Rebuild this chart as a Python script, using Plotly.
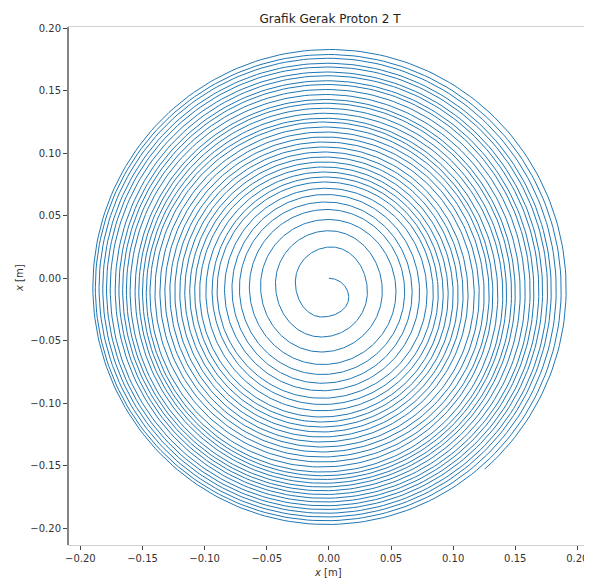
import numpy as np
import plotly.graph_objects as go

# Extremes of each turn of the spiral (metres)
right_x = [0.016, 0.031, 0.043, 0.054, 0.061, 0.067, 0.073, 0.079, 0.084, 0.088,
           0.092, 0.096, 0.100, 0.104, 0.108, 0.112, 0.117, 0.121, 0.125, 0.129,
           0.132, 0.136, 0.140, 0.143, 0.147, 0.150, 0.154, 0.158, 0.162, 0.165,
           0.169, 0.172, 0.176, 0.179, 0.183, 0.187, 0.191]
bottom_y = [-0.031, -0.047, -0.059, -0.069, -0.077, -0.084, -0.090, -0.096, -0.101, -0.106,
            -0.111, -0.115, -0.119, -0.123, -0.127, -0.131, -0.135, -0.139, -0.143, -0.147,
            -0.151, -0.155, -0.158, -0.161, -0.164, -0.167, -0.170, -0.173, -0.176, -0.179,
            -0.182, -0.185, -0.188, -0.191, -0.194, -0.197, -0.200]
left_x = [-0.027, -0.043, -0.055, -0.064, -0.072, -0.078, -0.084, -0.090, -0.094, -0.099,
          -0.104, -0.108, -0.112, -0.116, -0.120, -0.124, -0.128, -0.132, -0.136, -0.140,
          -0.144, -0.147, -0.150, -0.153, -0.156, -0.160, -0.163, -0.166, -0.169, -0.172,
          -0.176, -0.179, -0.182, -0.185, -0.188, -0.190]
top_y = [0.025, 0.038, 0.047, 0.055, 0.061, 0.067, 0.072, 0.077, 0.081, 0.085,
         0.089, 0.093, 0.097, 0.101, 0.105, 0.109, 0.113, 0.117, 0.121, 0.125,
         0.128, 0.132, 0.136, 0.140, 0.143, 0.147, 0.151, 0.155, 0.158, 0.162,
         0.165, 0.169, 0.172, 0.176, 0.179, 0.183]
start_xy = [0.0, 0.0]
last_quarter_fraction = 0.55

x_ticks = [-0.20, -0.15, -0.10, -0.05, 0.00, 0.05, 0.10, 0.15, 0.20]
y_ticks = [-0.20, -0.15, -0.10, -0.05, 0.00, 0.05, 0.10, 0.15, 0.20]


def fmt(v):
    s = f"{v:.2f}"
    return s.replace("-", "\u2212")


# Build the curve from quarter-ellipse arcs joining successive extremes
n_turns = len(left_x)
phi = np.linspace(0, np.pi / 2, 60)
xs, ys = [], []
xt, yt = start_xy
for k in range(n_turns + 1):
    # top -> right
    xr = right_x[k]
    yr = (yt + bottom_y[k]) / 2
    a, b = xr - xt, yt - yr
    xs += list(xt + a * np.sin(phi)); ys += list(yr + b * np.cos(phi))
    # right -> bottom
    yb = bottom_y[k]
    if k == n_turns:
        xb = (xr + left_x[-1] - 0.003) / 2
        ph = phi[: int(len(phi) * last_quarter_fraction)]
        a, b = xr - xb, yr - yb
        xs += list(xb + a * np.cos(ph)); ys += list(yr - b * np.sin(ph))
        break
    xb = (xr + left_x[k]) / 2
    a, b = xr - xb, yr - yb
    xs += list(xb + a * np.cos(phi)); ys += list(yr - b * np.sin(phi))
    # bottom -> left
    xl = left_x[k]
    yl = (yb + top_y[k]) / 2
    a, b = xb - xl, yl - yb
    xs += list(xb - a * np.sin(phi)); ys += list(yl - b * np.cos(phi))
    # left -> top
    ytn = top_y[k]
    xtn = (xl + right_x[k + 1]) / 2
    a, b = xtn - xl, ytn - yl
    xs += list(xtn - a * np.cos(phi)); ys += list(yl + b * np.sin(phi))
    xt, yt = xtn, ytn

fig = go.Figure(go.Scatter(x=xs, y=ys, mode="lines",
                           line=dict(color="#1f77b4", width=1.0),
                           hoverinfo="skip", showlegend=False))

W, H = 584, 572   # page body has an 8px margin
L, T, B = 60, 19, 35
PW, PH = W - L, H - T - B
font = dict(family="DejaVu Sans, sans-serif", size=10, color="#333")
fig.update_layout(
    width=W, height=H,
    margin=dict(l=L, r=0, t=T, b=B, autoexpand=False),
    paper_bgcolor="white", plot_bgcolor="white",
    title=dict(text="Grafik Gerak Proton 2 T", x=(330 - 8) / W, xanchor="center",
               xref="container", y=1 - 10.5 / H, yref="container", yanchor="middle",
               font=dict(family="DejaVu Sans, sans-serif", size=12, color="#222")),
    font=font,
)
fig.update_xaxes(range=[-0.2100, 0.2118], tickvals=x_ticks,
                 ticktext=[fmt(v) for v in x_ticks], automargin=False,
                 ticklabeloverflow="allow",
                 ticks="outside", ticklen=4, tickcolor="#444", tickwidth=1,
                 showgrid=False, zeroline=False, showline=True, linecolor="#d0d0d0",
                 linewidth=1, mirror=True)
fig.update_yaxes(range=[-0.2134, 0.2010], tickvals=y_ticks,
                 ticktext=[fmt(v) for v in y_ticks], automargin=False,
                 ticklabeloverflow="allow",
                 ticks="outside", ticklen=4, tickcolor="#444", tickwidth=1,
                 showgrid=False, zeroline=False, showline=False)
# dark left spine
fig.add_shape(type="line", xref="paper", yref="paper", x0=0, x1=0, y0=0, y1=1,
              line=dict(color="#333", width=1.2))
# axis labels
fig.add_annotation(text="<i>x</i> [m]", xref="paper", yref="paper",
                   x=(328 - 68) / PW, y=-(572 - 545) / PH, showarrow=False,
                   xanchor="center", yanchor="middle", font=font)
fig.add_annotation(text="<i>x</i> [m]", xref="paper", yref="paper",
                   x=-(68 - 19) / PW, y=0.5 - (278 - 286) / PH, showarrow=False,
                   textangle=-90, xanchor="center", yanchor="middle", font=font)

fig.write_html("out.html")
